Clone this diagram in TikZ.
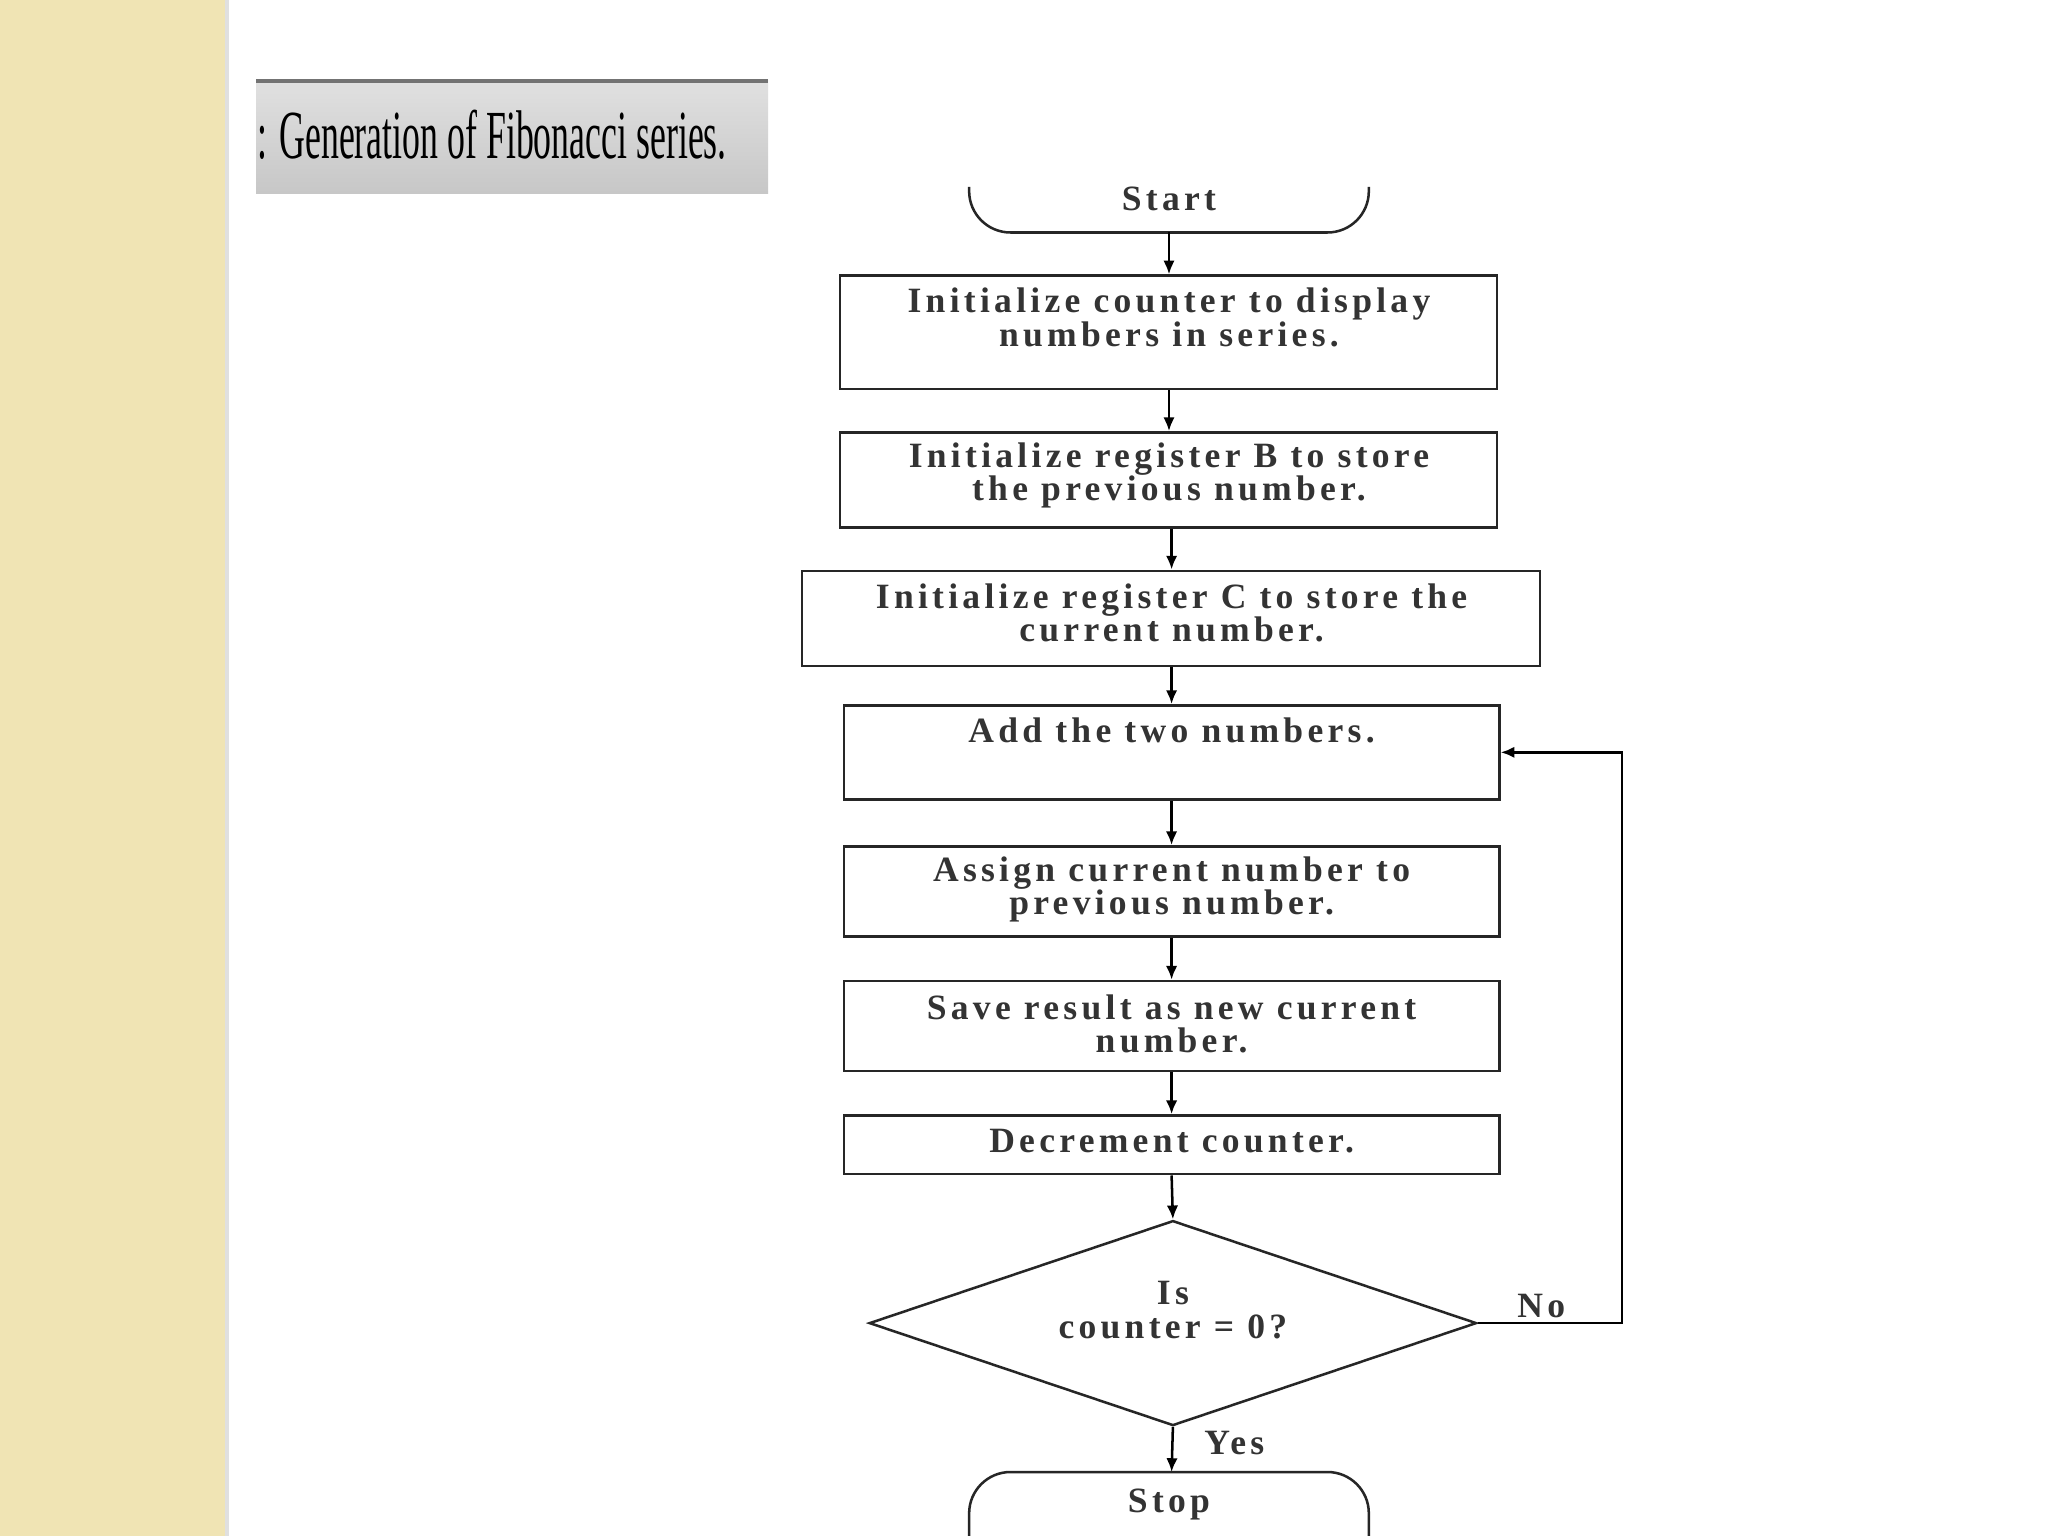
\documentclass[tikz,border=0pt]{standalone}
\usepackage{fontspec}
\setmainfont{Liberation Serif}
\usetikzlibrary{arrows.meta,shapes.geometric}
\definecolor{beige}{RGB}{240,228,180}
\begin{document}
\begin{tikzpicture}[x=0.02cm,y=-0.02cm,
  box/.style={draw=black!85,line width=1.1pt,inner sep=0pt},
  txt/.style={font=\fontsize{15.5}{14.5}\selectfont\bfseries\addfontfeature{LetterSpace=12},text=black!80,align=center},
  arr/.style={-{Latex[length=6pt,width=5pt]},line width=1.1pt}]
\useasboundingbox (0,0) rectangle (1568,1176);
\fill[white] (0,0) rectangle (1568,1176);
\fill[beige] (0,0) rectangle (172,1176);
\fill[black!12] (172,0) rectangle (175,1176);
% title
\shade[top color=black!12,bottom color=black!22] (196,62) rectangle (588,148);
\draw[black!55,line width=2pt] (196,62) -- (588,62);
\node[anchor=west,font=\fontsize{30}{32}\selectfont,xscale=0.52,transform shape,inner sep=0pt] (title) at (197,103) {: Generation of Fibonacci series.};
% start
\draw[box,rounded corners=18] (742,143) -- (742,178) -- (1048,178) -- (1048,143);
\node[txt] (start) at (895,152) {Start};
\coordinate (startb) at (895,178);
\node[box,minimum width=503*0.02cm,minimum height=87*0.02cm] (b1) at (894.5,254.5) {};
\node[txt] at (895,243) {Initialize counter to display\\numbers in series.};
\node[box,minimum width=503*0.02cm,minimum height=73*0.02cm] (b2) at (894.5,367.5) {};
\node[txt] at (895,364) {Initialize register B to store\\the previous number.};
\node[box,minimum width=565*0.02cm,minimum height=73*0.02cm] (b3) at (896.5,473.5) {};
\node[txt] at (897,469) {Initialize register C to store the\\current number.};
\node[box,minimum width=502*0.02cm,minimum height=72*0.02cm] (b4) at (897,576) {};
\node[txt] at (897,559) {Add the two numbers.};
\node[box,minimum width=502*0.02cm,minimum height=69*0.02cm] (b5) at (897,682.5) {};
\node[txt] at (897,681) {Assign current number to\\previous number.};
\node[box,minimum width=502*0.02cm,minimum height=69*0.02cm] (b6) at (897,785.5) {};
\node[txt] at (897,784) {Save result as new current\\number.};
\node[box,minimum width=502*0.02cm,minimum height=45*0.02cm] (b7) at (897,876.5) {};
\node[txt] at (897,874) {Decrement counter.};
\node[box,diamond,aspect=2.96,minimum width=465*0.02cm,minimum height=157*0.02cm] (d) at (898,1013) {};
\node[txt] at (898,1003) {Is\\counter = 0?};
\draw[box,rounded corners=18] (742,1176) -- (742,1127) -- (1048,1127) -- (1048,1176);
\node[txt] (stop) at (895,1152) {Stop};
\coordinate (stopt) at (897,1127);
% arrows
\draw[arr] (startb) -- (b1.north -| startb);
\draw[arr] (b1.south -| 895,0) -- (b2.north -| 895,0);
\draw[arr] (b2.south -| 897,0) -- (b3.north -| 897,0);
\draw[arr] (b3.south -| 897,0) -- (b4.north);
\draw[arr] (b4.south) -- (b5.north);
\draw[arr] (b5.south) -- (b6.north);
\draw[arr] (b6.south) -- (b7.north);
\draw[arr] (b7.south) -- (d.north);
\draw[arr] (d.south) -- (stopt);
\coordinate (loop) at (1242,1013);
\draw[arr] (d.east) -- (loop) -- (1242,576) -- (b4.east);
\node[txt] (no) at (1180,1000) {No};
\node[txt] (yes) at (945,1105) {Yes};
\end{tikzpicture}
\end{document}
